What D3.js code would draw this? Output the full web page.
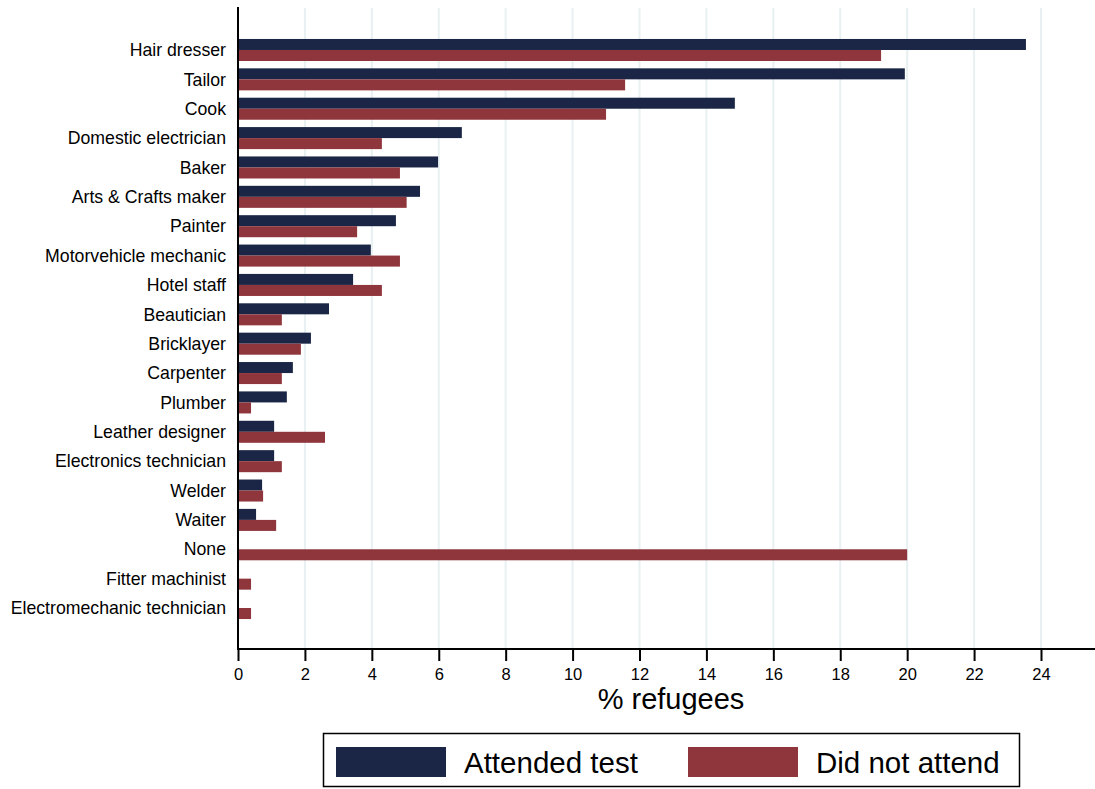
<!DOCTYPE html>
<html><head><meta charset="utf-8">
<script src="https://cdn.jsdelivr.net/npm/d3@7"></script>
<style>body{margin:0;background:#fff}svg{display:block;font-family:"Liberation Sans",Arial,sans-serif}</style>
</head><body>
<script>
const categories = ["Hair dresser","Tailor","Cook","Domestic electrician","Baker","Arts & Crafts maker","Painter","Motorvehicle mechanic","Hotel staff","Beautician","Bricklayer","Carpenter","Plumber","Leather designer","Electronics technician","Welder","Waiter","None","Fitter machinist","Electromechanic technician"];
const attended = [23.55,19.93,14.85,6.69,5.98,5.44,4.72,3.97,3.44,2.72,2.18,1.64,1.46,1.08,1.08,0.72,0.54,0,0,0];
const notAttended = [19.22,11.57,11.0,4.30,4.84,5.04,3.56,4.84,4.30,1.31,1.88,1.31,0.39,2.60,1.31,0.75,1.14,20.0,0.39,0.39];
const seriesNames = ["Attended test","Did not attend"];
const seriesColors = ["#1b2646","#8f353c"];
const xTicks = [0,2,4,6,8,10,12,14,16,18,20,22,24];

const W=1095,H=789;
const svg=d3.select("body").append("svg").attr("width",W).attr("height",H);
const x=d3.scaleLinear().domain([0,24]).range([238,1041]);
const y=d3.scaleBand().domain(categories).range([35.3,622.7]).paddingInner(0.25).paddingOuter(0.125);
const ys=d3.scaleBand().domain([0,1]).range([0,y.bandwidth()]);
const plotTop=7, plotBottom=649;

// gridlines
svg.append("g").selectAll("line").data(xTicks.filter(d=>d>0)).join("line")
  .attr("x1",d=>x(d)).attr("x2",d=>x(d)).attr("y1",plotTop+1).attr("y2",plotBottom)
  .attr("stroke","#e8f0f2").attr("stroke-width",2);

// bars
const rows=categories.map((c,i)=>({c,vals:[attended[i],notAttended[i]]}));
const g=svg.append("g");
rows.forEach(r=>{
  r.vals.forEach((v,k)=>{
    if(v<=0) return;
    g.append("rect").attr("x",x(0)).attr("y",y(r.c)+ys(k)).attr("width",x(v)-x(0)).attr("height",ys.bandwidth())
      .attr("fill",seriesColors[k]);
  });
});

// y axis
const yAx=svg.append("g").attr("transform",`translate(${x(0)},0)`)
  .call(d3.axisLeft(y).tickSize(0).tickPadding(12));
yAx.select(".domain").remove();
yAx.append("line").attr("x1",0).attr("x2",0).attr("y1",plotTop).attr("y2",plotBottom).attr("stroke","#000").attr("stroke-width",2);
yAx.selectAll("text").attr("font-size","17.7px").attr("fill","#000").attr("font-family","Liberation Sans, Arial, sans-serif").attr("dy","0.35em");

// x axis
const xAx=svg.append("g").attr("transform",`translate(0,${plotBottom})`)
  .call(d3.axisBottom(x).tickValues(xTicks).tickSize(12).tickPadding(7).tickSizeOuter(0));
xAx.select(".domain").remove();
xAx.append("line").attr("x1",x(0)-1).attr("x2",W).attr("y1",0).attr("y2",0).attr("stroke","#000").attr("stroke-width",2);
xAx.selectAll(".tick line").attr("stroke","#000").attr("stroke-width",2);
xAx.selectAll("text").attr("font-size","16.5px").attr("fill","#000").attr("font-family","Liberation Sans, Arial, sans-serif");

svg.append("text").attr("x",671).attr("y",709).attr("text-anchor","middle")
  .attr("font-size","29px").attr("fill","#000").text("% refugees");

// legend
const lg=svg.append("g");
lg.append("rect").attr("x",323.5).attr("y",733.5).attr("width",696).attr("height",53).attr("fill","#fff").attr("stroke","#000").attr("stroke-width",1.5);
const legX=[336,688];
seriesNames.forEach((n,k)=>{
  lg.append("rect").attr("x",legX[k]).attr("y",747).attr("width",110).attr("height",30).attr("fill",seriesColors[k]);
  lg.append("text").attr("x",legX[k]+128).attr("y",773).attr("font-size","29.5px").attr("fill","#000").text(n);
});
</script>
</body></html>
